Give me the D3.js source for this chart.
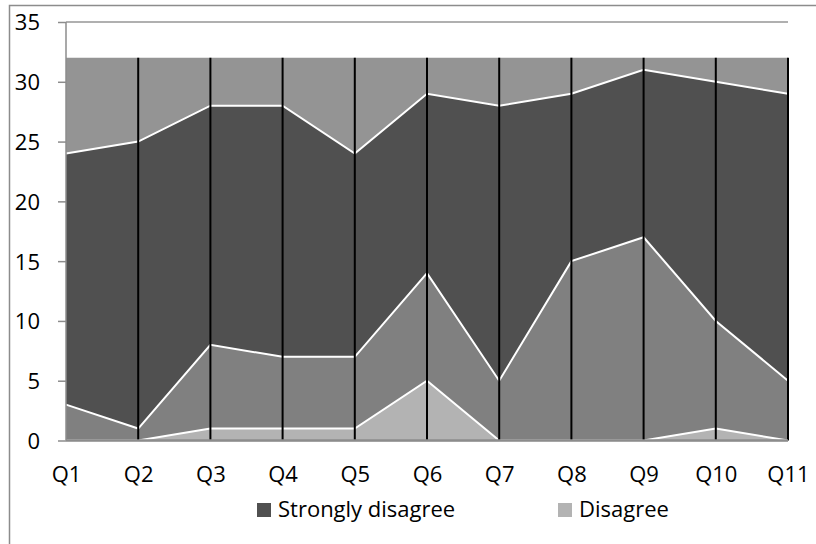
<!DOCTYPE html>
<html>
<head>
<meta charset="utf-8">
<script src="https://cdn.jsdelivr.net/npm/d3@7"></script>
<style>
  html, body { margin: 0; padding: 0; background: #fff; }
  svg { display: block; }
  text { font-family: "Open Sans", sans-serif; fill: #000; }
</style>
</head>
<body>
<svg id="chart" width="816" height="544"></svg>
<script>
// ---- data ----
const categories = ["Q1","Q2","Q3","Q4","Q5","Q6","Q7","Q8","Q9","Q10","Q11"];
const disagree         = [0, 0, 1, 1, 1, 5, 0, 0, 0, 1, 0];
const seriesB          = [3, 1, 7, 6, 6, 9, 5, 15, 17, 9, 5];
const stronglyDisagree = [21, 24, 20, 21, 17, 15, 23, 14, 14, 20, 24];
const seriesD          = [8, 7, 4, 4, 8, 3, 4, 3, 1, 2, 3];
const yTicks = [0, 5, 10, 15, 20, 25, 30, 35];
const seriesKeys = ["Disagree", "Series B", "Strongly disagree", "Series D"];
const legendKeys = ["Strongly disagree", "Disagree"];

const colors = {
  "Disagree": "#b3b3b3",
  "Series B": "#808080",
  "Strongly disagree": "#505050",
  "Series D": "#949494"
};

const rows = categories.map((c, i) => ({
  cat: c,
  "Disagree": disagree[i],
  "Series B": seriesB[i],
  "Strongly disagree": stronglyDisagree[i],
  "Series D": seriesD[i]
}));

const svg = d3.select("#chart");
const mLeft = 66, mRight = 788, mTop = 22, mBottom = 440.5;
const fontSize = "22px";

const x = d3.scalePoint().domain(categories).range([mLeft, mRight]);
const y = d3.scaleLinear().domain([0, 35]).range([mBottom, mTop]);

// outer border
svg.append("rect")
  .attr("x", 9.5).attr("y", 5.5).attr("width", 830).attr("height", 560)
  .attr("fill", "none").attr("stroke", "#8c8c8c").attr("stroke-width", 1.5);

// gridlines
svg.append("g").selectAll("line").data(yTicks).join("line")
  .attr("x1", mLeft).attr("x2", mRight)
  .attr("y1", d => y(d)).attr("y2", d => y(d))
  .attr("stroke", "#969696").attr("stroke-width", 1.5);

const stack = d3.stack().keys(seriesKeys)(rows);

const area = d3.area()
  .x(d => x(d.data.cat))
  .y0(d => y(d[0]))
  .y1(d => y(d[1]));

svg.append("g").selectAll("path").data(stack).join("path")
  .attr("d", area)
  .attr("fill", d => colors[d.key]);

// white borders along layer tops
const topLine = d3.line().x(d => x(d.data.cat)).y(d => y(d[1]));
svg.append("g").selectAll("path").data(stack.slice(0, 3)).join("path")
  .attr("d", topLine)
  .attr("fill", "none").attr("stroke", "#fff").attr("stroke-width", 2);

// drop lines
const totals = rows.map(r => seriesKeys.reduce((s, k) => s + r[k], 0));
svg.append("g").selectAll("line").data(categories.slice(1)).join("line")
  .attr("x1", d => x(d)).attr("x2", d => x(d))
  .attr("y1", d => y(totals[categories.indexOf(d)]))
  .attr("y2", y(0))
  .attr("stroke", "#000").attr("stroke-width", 2);

// y axis
const yAxis = svg.append("g").attr("transform", `translate(${mLeft},0)`)
  .call(d3.axisLeft(y).tickValues(yTicks).tickSize(8).tickPadding(0).tickFormat(d3.format("d")));
yAxis.select(".domain").attr("stroke", "#8c8c8c").attr("stroke-width", 1.5)
  .attr("d", `M0,${mTop}V${mBottom}`);
yAxis.selectAll(".tick line").attr("stroke", "#8c8c8c").attr("stroke-width", 1.5);
yAxis.selectAll(".tick text")
  .attr("x", -26).attr("dy", "0.36em")
  .style("font-family", "'Open Sans', sans-serif").style("font-size", fontSize).attr("fill", "#000");

// x axis
const xAxis = svg.append("g").attr("transform", `translate(0,${mBottom})`)
  .call(d3.axisBottom(x).tickSize(0).tickPadding(0));
xAxis.select(".domain").attr("stroke", "#8c8c8c").attr("stroke-width", 2.5)
  .attr("d", `M${mLeft},0H${mRight}`);
xAxis.selectAll(".tick text")
  .attr("y", 41).attr("dy", 0)
  .style("font-family", "'Open Sans', sans-serif").style("font-size", fontSize).attr("fill", "#000");

// legend
const legendX = [257, 558];
const lg = svg.append("g").selectAll("g").data(legendKeys).join("g")
  .attr("transform", (d, i) => `translate(${legendX[i]},503)`);
lg.append("rect").attr("width", 14).attr("height", 14).attr("fill", d => colors[d]);
lg.append("text").attr("x", 21).attr("y", 14)
  .style("font-size", fontSize).text(d => d);
</script>
</body>
</html>
